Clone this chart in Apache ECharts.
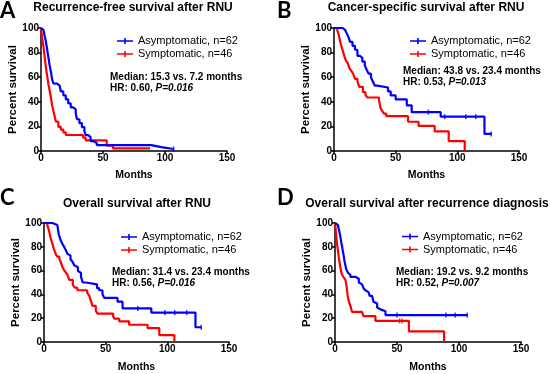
<!DOCTYPE html>
<html>
<head>
<meta charset="utf-8">
<script src="https://cdn.jsdelivr.net/npm/echarts@6/dist/echarts.min.js"></script>
<style>
	html, body { margin: 0; padding: 0; background: #fff; }
	#chart { width: 550px; height: 374px; }
</style>
</head>
<body>
<div id="chart"></div>
<script>
// Kaplan-Meier curves, [months, percent survival]
const rfsAsym = [ [ 0, 100 ], [ 1, 98.4 ], [ 2, 96.8 ], [ 3, 93.5 ], [ 4, 88.7 ], [ 5, 82.3 ], [ 6, 75.8 ], [ 7, 69.4 ], [ 8, 64.5 ], [ 9, 58 ], [ 10, 55 ], [ 11, 54.8 ], [ 13, 53.2 ], [ 15, 51.6 ], [ 16, 48.4 ], [ 18, 45.2 ], [ 20, 41.9 ], [ 22, 38.7 ], [ 24, 35.5 ], [ 26, 33.9 ], [ 28, 30.6 ], [ 29, 25.8 ], [ 31, 22.6 ], [ 33, 19.4 ], [ 35, 16.1 ], [ 36, 12.9 ], [ 38, 11.3 ], [ 40, 8.1 ], [ 42, 6.5 ], [ 45, 4.8 ], [ 89, 3.2 ], [ 97, 1.6 ], [ 107, 1.6 ] ];
const rfsSym = [ [ 0, 100 ], [ 0.5, 95.7 ], [ 1, 91.3 ], [ 2, 84.8 ], [ 3, 76.1 ], [ 4, 67.4 ], [ 5, 60.9 ], [ 6, 54.3 ], [ 7.2, 47.8 ], [ 8, 43.5 ], [ 9, 37 ], [ 10, 32.6 ], [ 11, 28.3 ], [ 12, 23.9 ], [ 14, 19.6 ], [ 16, 17.4 ], [ 18, 15.2 ], [ 20, 13 ], [ 34, 10.9 ], [ 36, 8.7 ], [ 53, 4.3 ], [ 58, 2.2 ], [ 88, 2.2 ] ];

const cssAsym = [ [ 0, 100 ], [ 7, 98.4 ], [ 9, 96.8 ], [ 10.5, 95.2 ], [ 12, 91.9 ], [ 13, 88.7 ], [ 15, 85.5 ], [ 17, 82.3 ], [ 19, 77.4 ], [ 21, 75.8 ], [ 23, 72.6 ], [ 25, 69.4 ], [ 26.5, 66.1 ], [ 28, 62.9 ], [ 30, 59.7 ], [ 31.5, 56.5 ], [ 33, 53.2 ], [ 35, 51.6 ], [ 43.8, 48.4 ], [ 46, 45.2 ], [ 50, 41.9 ], [ 59, 37.1 ], [ 63, 31.6 ], [ 86.5, 27.9 ], [ 122, 13.9 ], [ 127.5, 13.9 ] ];
const cssSym = [ [ 0, 100 ], [ 2.7, 97.8 ], [ 3.5, 95.7 ], [ 4.5, 91.3 ], [ 5.5, 87 ], [ 6.8, 82.6 ], [ 8, 78.3 ], [ 9.5, 73.9 ], [ 11, 71.7 ], [ 12.5, 67.4 ], [ 14, 65.2 ], [ 15.5, 63 ], [ 17, 58.7 ], [ 19, 56.5 ], [ 20.5, 52.2 ], [ 23.4, 47.8 ], [ 25.5, 45.7 ], [ 27, 43.5 ], [ 36.5, 41.3 ], [ 37.8, 34.8 ], [ 39, 32.6 ], [ 40.5, 30.4 ], [ 42.4, 28.3 ], [ 60, 23.8 ], [ 68.6, 20.4 ], [ 81.6, 15.9 ], [ 93, 8 ], [ 106, 0 ] ];

const osAsym = [ [ 0, 100 ], [ 6.8, 98.4 ], [ 10.8, 96.8 ], [ 11.5, 93.5 ], [ 12, 90.3 ], [ 13.5, 85.5 ], [ 15, 82.3 ], [ 16, 80.6 ], [ 17.6, 77.4 ], [ 19, 74.2 ], [ 20, 72.6 ], [ 21.5, 69.4 ], [ 23, 67.7 ], [ 24.5, 64.5 ], [ 26, 62.9 ], [ 27.5, 59.7 ], [ 29, 58.1 ], [ 30, 54.8 ], [ 31.4, 50 ], [ 34, 48.4 ], [ 43, 45.2 ], [ 44.7, 43.5 ], [ 47.4, 40.3 ], [ 48.8, 37.1 ], [ 59.6, 33.9 ], [ 63.7, 28.2 ], [ 87, 24.7 ], [ 122.8, 12.4 ], [ 127.5, 12.4 ] ];
const osSym = [ [ 0, 100 ], [ 2.7, 97.8 ], [ 3.5, 95.7 ], [ 4.5, 91.3 ], [ 5.5, 87 ], [ 6.8, 82.6 ], [ 8, 78.3 ], [ 9.5, 73.9 ], [ 10.8, 71.7 ], [ 12.5, 69.6 ], [ 13.5, 67.4 ], [ 15, 63 ], [ 16, 60.9 ], [ 17.5, 58.7 ], [ 19, 56.5 ], [ 20.5, 52.2 ], [ 23.4, 47.8 ], [ 25, 45.7 ], [ 27, 43.5 ], [ 35, 41.3 ], [ 36.6, 39.1 ], [ 38, 34.8 ], [ 39.3, 30.4 ], [ 42, 26.1 ], [ 43.4, 23.9 ], [ 56, 21.7 ], [ 57, 19.6 ], [ 61, 17.4 ], [ 69, 14.5 ], [ 84, 11.6 ], [ 93.5, 5.8 ], [ 105.7, 0 ] ];

const recAsym = [ [ 0, 100 ], [ 1.6, 98.4 ], [ 2.3, 96.8 ], [ 3, 95.2 ], [ 3.7, 91.9 ], [ 4.3, 88.7 ], [ 5, 83.9 ], [ 5.7, 80.6 ], [ 6.4, 75.8 ], [ 7, 72.6 ], [ 7.7, 67.7 ], [ 8.4, 64.5 ], [ 9, 61.3 ], [ 9.7, 59.7 ], [ 10.5, 58.1 ], [ 11.5, 56.5 ], [ 12.4, 54.8 ], [ 16.4, 53.2 ], [ 19.2, 50 ], [ 20.5, 48.4 ], [ 21.8, 46.8 ], [ 23, 45.2 ], [ 24.5, 43.5 ], [ 26, 41.9 ], [ 27, 40.3 ], [ 28, 38.7 ], [ 30, 37.1 ], [ 31, 33.9 ], [ 32, 32.3 ], [ 34, 29 ], [ 35, 27.4 ], [ 36.7, 25.8 ], [ 40.7, 22.6 ], [ 106.7, 22.6 ] ];
const recSym = [ [ 0, 100 ], [ 0.5, 95.7 ], [ 0.8, 91.3 ], [ 1.2, 87 ], [ 1.6, 82.6 ], [ 2.2, 78.3 ], [ 3, 71.7 ], [ 3.6, 67.4 ], [ 4.3, 63 ], [ 5, 58.7 ], [ 5.7, 56.5 ], [ 7, 54.3 ], [ 8.4, 52.2 ], [ 9.2, 47.8 ], [ 9.7, 43.5 ], [ 10.2, 39.1 ], [ 11, 34.8 ], [ 11.7, 32.6 ], [ 12.4, 30.4 ], [ 13, 28.3 ], [ 13.7, 25.3 ], [ 21.8, 24 ], [ 23, 21.7 ], [ 32.6, 17.7 ], [ 59.6, 8.9 ], [ 88, 0 ] ];

// censored observations (months), drawn as small ticks on the curves
const cssAsymCensor = [ 76.5, 89.7, 106.8, 114.9, 127.5 ];
const osAsymCensor = [ 76, 98, 106, 115.7, 127.5 ];
const recAsymCensor = [ 50, 89.4, 97, 106.7 ];
const recSymCensor = [ 52, 54 ];
const rfsAsymCensor = [ 107 ];

const panelTitles = [
	'Recurrence-free survival after RNU',
	'Cancer-specific survival after RNU',
	'Overall survival after RNU',
	'Overall survival after recurrence diagnosis'
];
const panelLetters = [ 'A', 'B', 'C', 'D' ];
const medianText = [
	'Median: 15.3 vs. 7.2 months',
	'Median: 43.8 vs. 23.4 months',
	'Median: 31.4 vs. 23.4 months',
	'Median: 19.2 vs. 9.2 months'
];
const hrText = [ 'HR: 0.60, ', 'HR: 0.53, ', 'HR: 0.56, ', 'HR: 0.52, ' ];
const pText = [ 'P=0.016', 'P=0.013', 'P=0.016', 'P=0.007' ];
const groupNames = [ 'Asymptomatic, n=62', 'Symptomatic, n=46' ];
const xTicks = [ 0, 150, 50 ]; // min, max, interval
const yTicks = [ 0, 100, 20 ];

const FONT = '"Liberation Sans", Arial, sans-serif';
const BLUE = '#0000ff';
const RED = '#ff0000';

// layout of each panel
const panels = [
	{ grid: { left: 41, top: 28, width: 186, height: 123 }, legend: [ 117, 34.5 ], note: [ 110, 77 ], title: [ 133, 8 ], letter: [ 0, 0 ], xGap: 19 },
	{ grid: { left: 334, top: 28, width: 185, height: 123 }, legend: [ 410, 34.5 ], note: [ 403, 71 ], title: [ 426, 8 ], letter: [ 277, 0 ], xGap: 19 },
	{ grid: { left: 44, top: 223, width: 185, height: 124 }, legend: [ 121, 230.5 ], note: [ 112, 272 ], title: [ 137, 204 ], letter: [ 0, 187 ], xGap: 20 },
	{ grid: { left: 335, top: 223, width: 186, height: 124 }, legend: [ 402, 230 ], note: [ 396, 272 ], title: [ 427, 204 ], letter: [ 277, 187 ], xGap: 20 }
];

const curves = [
	[ rfsAsym, rfsSym, rfsAsymCensor, [] ],
	[ cssAsym, cssSym, cssAsymCensor, [] ],
	[ osAsym, osSym, osAsymCensor, [] ],
	[ recAsym, recSym, recAsymCensor, recSymCensor ]
];

function stepValue( curve, t ) {
	let v = curve[ 0 ][ 1 ];
	curve.forEach( ( p ) => {
		if ( p[ 0 ] <= t ) {
			v = p[ 1 ];
		}
	} );
	return v;
}

const grid = [];
const xAxis = [];
const yAxis = [];
const series = [];
const legend = [];
const graphic = [];

panels.forEach( ( panel, i ) => {
	grid.push( panel.grid );

	xAxis.push( {
		type: 'value',
		gridIndex: i,
		min: xTicks[ 0 ],
		max: xTicks[ 1 ],
		interval: xTicks[ 2 ],
		name: 'Months',
		nameLocation: 'middle',
		nameGap: panel.xGap,
		nameTextStyle: { fontFamily: FONT, fontWeight: 'bold', fontSize: 10.5, color: '#000' },
		axisLine: { lineStyle: { color: '#000', width: 1.5 } },
		axisTick: { length: 3, lineStyle: { color: '#000', width: 1.5 } },
		axisLabel: { fontFamily: FONT, fontWeight: 'bold', fontSize: 10, color: '#000', margin: 2 },
		splitLine: { show: false }
	} );

	yAxis.push( {
		type: 'value',
		gridIndex: i,
		min: yTicks[ 0 ],
		max: yTicks[ 1 ],
		interval: yTicks[ 2 ],
		name: 'Percent survival',
		nameLocation: 'middle',
		nameRotate: 90,
		nameGap: 22,
		nameTextStyle: { fontFamily: FONT, fontWeight: 'bold', fontSize: 11.5, color: '#000' },
		axisLine: { show: true, lineStyle: { color: '#000', width: 1.5 } },
		axisTick: { show: true, length: 3, lineStyle: { color: '#000', width: 1.5 } },
		axisLabel: { fontFamily: FONT, fontWeight: 'bold', fontSize: 10, color: '#000', margin: 2 },
		splitLine: { show: false }
	} );

	const c = curves[ i ];
	[ 0, 1 ].forEach( ( g ) => {
		const color = g === 0 ? BLUE : RED;
		series.push( {
			type: 'line',
			name: groupNames[ g ],
			xAxisIndex: i,
			yAxisIndex: i,
			step: 'end',
			showSymbol: false,
			color: color,
			lineStyle: { width: 2.2, color: color },
			data: c[ g ],
			z: g === 0 ? 3 : 2
		} );
		const censor = c[ g + 2 ];
		if ( censor.length ) {
			series.push( {
				type: 'scatter',
				name: groupNames[ g ],
				xAxisIndex: i,
				yAxisIndex: i,
				symbol: 'rect',
				symbolSize: [ 1.5, 5 ],
				color: color,
				data: censor.map( ( t ) => [ t, stepValue( c[ g ], t ) ] )
			} );
		}
	} );

	legend.push( {
		orient: 'vertical',
		left: panel.legend[ 0 ],
		top: panel.legend[ 1 ],
		padding: 0,
		itemGap: 0,
		itemWidth: 16,
		itemHeight: 6,
		icon: 'path://M0,2.2H16V3.8H0Z M7.2,0H8.8V6H7.2Z',
		selectedMode: false,
		textStyle: { fontFamily: FONT, fontSize: 11, lineHeight: 13, color: '#000', padding: [ 0, 0, 0, 0 ] },
		data: groupNames
	} );

	graphic.push( {
		type: 'text',
		x: panel.title[ 0 ],
		y: panel.title[ 1 ],
		style: {
			text: panelTitles[ i ],
			fontFamily: FONT,
			fontWeight: 'bold',
			fontSize: 12,
			fill: '#000',
			align: 'center',
			verticalAlign: 'middle'
		}
	} );
	graphic.push( {
		type: 'text',
		x: panel.letter[ 0 ],
		y: panel.letter[ 1 ],
		style: {
			text: panelLetters[ i ],
			fontFamily: 'Lato, "Open Sans", sans-serif',
			fontWeight: 'bold',
			fontSize: 22,
			fill: '#000',
			align: 'left',
			verticalAlign: 'top'
		}
	} );
	const noteStyle = { fontFamily: FONT, fontWeight: 'bold', fontSize: 10, fill: '#000' };
	graphic.push( {
		type: 'text',
		x: panel.note[ 0 ],
		y: panel.note[ 1 ],
		style: Object.assign( { text: medianText[ i ], align: 'left', verticalAlign: 'middle' }, noteStyle )
	} );
	graphic.push( {
		type: 'text',
		x: panel.note[ 0 ],
		y: panel.note[ 1 ] + 11.5,
		style: {
			text: '{b|' + hrText[ i ] + '}{i|' + pText[ i ] + '}',
			align: 'left',
			verticalAlign: 'middle',
			rich: {
				b: noteStyle,
				i: Object.assign( { fontStyle: 'italic' }, noteStyle )
			}
		}
	} );
} );

const chart = echarts.init( document.getElementById( 'chart' ) );
chart.setOption( {
	animation: false,
	backgroundColor: '#fff',
	grid: grid,
	xAxis: xAxis,
	yAxis: yAxis,
	legend: legend,
	series: series,
	graphic: graphic
} );
</script>
</body>
</html>
